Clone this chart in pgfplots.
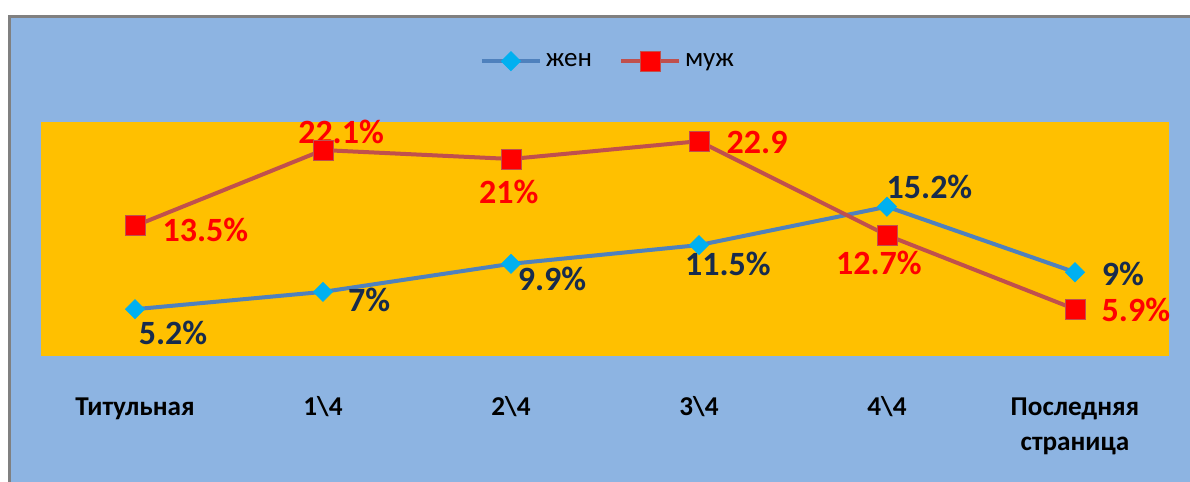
\documentclass[border=0pt]{standalone}
\usepackage{fontspec}
\setmainfont{Carlito}
\usepackage{pgfplots}
\pgfplotsset{compat=1.18}

\definecolor{bgblue}{RGB}{141,180,226}
\definecolor{plotorange}{RGB}{255,192,0}
\definecolor{zhenline}{RGB}{79,129,189}
\definecolor{zhenmark}{RGB}{0,176,240}
\definecolor{muzhline}{RGB}{192,80,77}
\definecolor{muzhmark}{RGB}{255,0,0}
\definecolor{labnavy}{RGB}{23,43,77}
\definecolor{framegray}{RGB}{128,128,128}

\begin{document}
\begin{tikzpicture}
\useasboundingbox (-20.5pt,-63pt) rectangle (574.5pt,178pt);
\fill[white] (-20.5pt,-63pt) rectangle (574.5pt,178pt);
\fill[bgblue] (-15.75pt,-63pt) rectangle (574.5pt,169.75pt);
\draw[framegray,line width=1.5pt] (-15.75pt,-63pt) -- (-15.75pt,169.75pt) -- (574.5pt,169.75pt);
\begin{axis}[
  at={(0,0)}, anchor=south west,
  scale only axis, width=564pt, height=117pt,
  xmin=-0.5, xmax=5.5, ymin=0, ymax=25,
  axis line style={draw=none},
  axis background/.style={fill=plotorange},
  xtick={0,1,2,3,4,5},
  xticklabels={Титульная,1\textbackslash4,2\textbackslash4,3\textbackslash4,4\textbackslash4,
    {\begin{tabular}[t]{@{}c@{}}Последняя\\[1.5pt]страница\end{tabular}}},
  xticklabel style={font=\fontsize{13.6}{16}\selectfont\bfseries, anchor=base, yshift=-29.5pt},
  ytick=\empty,
  major tick length=0pt,
  clip=false,
  legend style={at={(0.5035,1.26)}, anchor=center, draw=none, fill=none,
    font=\fontsize{13.5}{16}\selectfont, legend columns=2,
    /tikz/every even column/.append style={column sep=11.5pt}},
  legend image code/.code={\draw[mark repeat=2,mark phase=2,#1] plot coordinates {(0pt,0pt)(14.5pt,0pt)(29pt,0pt)};},
]
\addplot[zhenline, line width=2pt, mark=square*, mark size=3.4pt,
  mark options={rotate=45, fill=zhenmark, draw=zhenmark, line width=0.3pt}]
  coordinates {(0,5.0) (1,6.85) (2,9.85) (3,11.85) (4,15.95) (5,8.95)};
\addlegendentry{жен}
\addplot[muzhline, line width=2pt, mark=square*, mark size=5pt,
  mark options={fill=muzhmark, draw=muzhline, line width=0.4pt}]
  coordinates {(0,13.9) (1,22.0) (2,21.05) (3,22.95) (4,12.9) (5,5.0)};
\addlegendentry{муж}

\tikzset{lab/.style={font=\fontsize{17}{20}\selectfont\bfseries, anchor=base, inner sep=0pt}}
\node[lab, text=labnavy] at (axis cs:0.202,1.18) {5.2\%};
\node[lab, text=labnavy] at (axis cs:1.245,4.73) {7\%};
\node[lab, text=labnavy] at (axis cs:2.218,7.05) {9.9\%};
\node[lab, text=labnavy] at (axis cs:3.154,8.58) {11.5\%};
\node[lab, text=labnavy] at (axis cs:4.226,16.85) {15.2\%};
\node[lab, text=labnavy] at (axis cs:5.255,7.5) {9\%};
\node[lab, text=muzhmark] at (axis cs:0.374,12.28) {13.5\%};
\node[lab, text=muzhmark] at (axis cs:1.096,22.72) {22.1\%};
\node[lab, text=muzhmark] at (axis cs:1.988,16.24) {21\%};
\node[lab, text=muzhmark] at (axis cs:3.309,21.66) {22.9};
\node[lab, text=muzhmark] at (axis cs:3.957,8.72) {12.7\%};
\node[lab, text=muzhmark] at (axis cs:5.324,3.66) {5.9\%};
\end{axis}
\end{tikzpicture}
\end{document}
